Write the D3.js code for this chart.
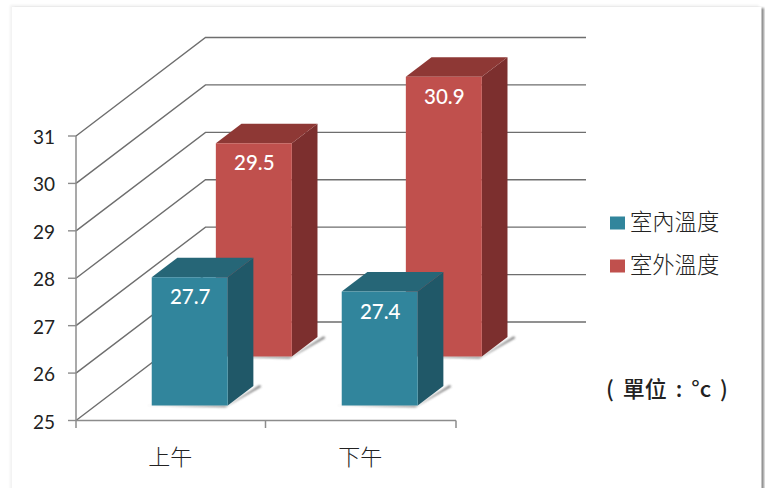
<!DOCTYPE html>
<html><head><meta charset="utf-8">
<script src="https://cdn.jsdelivr.net/npm/d3@7"></script>
<style>
html,body{margin:0;padding:0;background:#fff;overflow:hidden}
svg{display:block}
</style></head><body>
<svg id="c" width="765" height="488"></svg>
<script>
const categories = ["上午", "下午"];
const seriesNames = ["室內溫度", "室外溫度"];
const indoorValues = [27.7, 27.4];
const outdoorValues = [29.5, 30.9];
const yTicks = [25, 26, 27, 28, 29, 30, 31];
const unitLabel = "( 單位 : °c )";

const seriesValues = [indoorValues, outdoorValues];
const faceColors = [["#31859c", "#266677", "#205868"], ["#c0504d", "#8e3835", "#7c2f2e"]];
const fontLatin = "Lato,'Open Sans',sans-serif";
const fontCjk = "'Noto Sans CJK TC','Noto Sans',sans-serif";

const svg = d3.select("#c");
const defs = svg.append("defs");
defs.append("filter").attr("id","soft").attr("x","-30%").attr("y","-30%").attr("width","160%").attr("height","160%")
  .append("feGaussianBlur").attr("stdDeviation",1.1);
defs.append("filter").attr("id","cardS").attr("x","-5%").attr("y","-5%").attr("width","110%").attr("height","110%")
  .append("feGaussianBlur").attr("stdDeviation",1.0);

// card
svg.append("rect").attr("width",765).attr("height",488).attr("fill","#fff");
svg.append("rect").attr("x",10).attr("y",5).attr("width",749).attr("height",490).attr("fill","#f2f2f2").attr("filter","url(#cardS)");
svg.append("rect").attr("x",14).attr("y",8).attr("width",750).attr("height",490).attr("fill","#8c8c8c").attr("filter","url(#cardS)");
svg.append("rect").attr("x",12).attr("y",7).attr("width",749.5).attr("height",490).attr("fill","#fff");

// projection: front plane scales + depth vector
const x = d3.scaleBand().domain(categories).range([76,456]).paddingInner(0.6).paddingOuter(0.3).align(0.49);
const y = d3.scaleLinear().domain([25,31]).range([420.5,136]);
const z = d3.scaleBand().domain(seriesNames).range([0,1]).paddingInner(0.6).paddingOuter(0.31);
const depthX = 129.5, depthY = -98.5, wallWidth = 380.5;
const P = (px, val, t) => [px + depthX*t, y(val) + depthY*t];
const path = pts => "M" + pts.map(p => p.join(",")).join("L") + "Z";

// walls: gridlines
const g = svg.append("g");
yTicks.forEach(v => {
  const a = P(76,v,0), b = P(76,v,1);
  const c = [b[0]+wallWidth, b[1]];
  g.append("polyline").attr("points",[a,b,c].map(p=>p.join(",")).join(" "))
    .attr("fill","none").attr("stroke","#6e6e6e").attr("stroke-width",1.4);
  g.append("line").attr("x1",68).attr("x2",76).attr("y1",y(v)).attr("y2",y(v)).attr("stroke","#8c8c8c").attr("stroke-width",1.4);
  g.append("text").attr("x",55).attr("y",y(v)+8).attr("text-anchor","end")
    .attr("font-family",fontLatin).attr("font-size",19).attr("fill","#222").text(v);
});
g.append("line").attr("x1",76).attr("x2",76).attr("y1",136).attr("y2",428).attr("stroke","#8c8c8c").attr("stroke-width",1.5);
g.append("line").attr("x1",76).attr("x2",456).attr("y1",420.5).attr("y2",420.5).attr("stroke","#8c8c8c").attr("stroke-width",1.5);
[265.5,456].forEach(px => g.append("line").attr("x1",px).attr("x2",px).attr("y1",420.5).attr("y2",428).attr("stroke","#8c8c8c").attr("stroke-width",1.5));
categories.forEach((c) => {
  g.append("text").attr("x",x(c)+x.bandwidth()/2+0.5).attr("y",465).attr("text-anchor","middle")
    .attr("font-family",fontCjk).attr("font-weight",300).attr("font-size",22).attr("fill","#222").text(c);
});

// bars: back series first
[1,0].forEach(si => {
  const s = seriesNames[si], t0 = z(s), t1 = t0 + z.bandwidth();
  const [front, top, side] = faceColors[si];
  categories.forEach((c, ci) => {
    const v = seriesValues[si][ci], x0 = x(c), x1 = x0 + x.bandwidth();
    // floor shadow
    svg.append("path").attr("d", path([P(x0-6,25,t0), P(x1,25,t0-0.018), P(x1+9,25,t1-0.008), P(x1+5,25,t1+0.01), P(x1,25,t0), P(x0,25,t0)]))
      .attr("fill","#555").attr("opacity",.75).attr("filter","url(#soft)");
    svg.append("path").attr("d", path([P(x1,25,t0),P(x1,25,t1),P(x1,v,t1),P(x1,v,t0)])).attr("fill",side);
    svg.append("path").attr("d", path([P(x0,v,t0),P(x1,v,t0),P(x1,v,t1),P(x0,v,t1)])).attr("fill",top);
    svg.append("path").attr("d", path([P(x0,25,t0),P(x1,25,t0),P(x1,v,t0),P(x0,v,t0)])).attr("fill",front);
    const lp = P((x0+x1)/2, v, t0);
    svg.append("text").attr("x",lp[0]+0.5).attr("y",lp[1]+27).attr("text-anchor","middle")
      .attr("font-family",fontLatin).attr("font-size",20.5).attr("font-weight",500).attr("fill","#fff").text(v.toFixed(1));
  });
});

// legend
seriesNames.forEach((s,i) => {
  const ly = 216.5 + i*43;
  svg.append("rect").attr("x",610).attr("y",ly).attr("width",15).attr("height",13).attr("fill",faceColors[i][0]);
  svg.append("text").attr("x",630).attr("y",ly+13.5)
    .attr("font-family",fontCjk).attr("font-weight",300).attr("font-size",22.3).attr("fill","#222").text(s);
});
svg.append("text").attr("x",606).attr("y",396.5)
  .attr("font-family",fontCjk).attr("font-weight",500).attr("font-size",22).attr("fill","#222")
  .attr("word-spacing",4).attr("xml:space","preserve").text(unitLabel);
</script>
</body></html>
